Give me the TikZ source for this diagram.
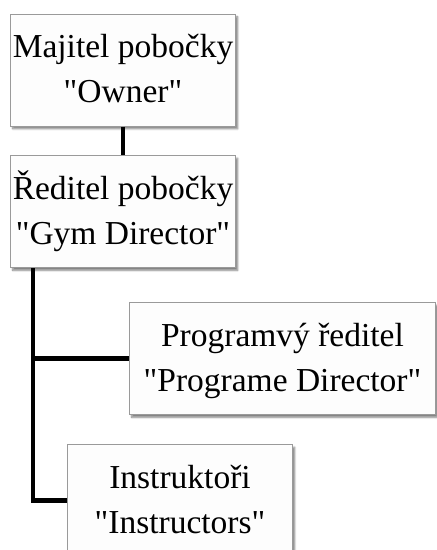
\documentclass[tikz,border=0pt]{standalone}
\usepackage{fontspec}
\setmainfont{Liberation Serif}[Ligatures=TeXOff]
\usetikzlibrary{shadows.blur,calc}
\definecolor{boxborder}{HTML}{9A9A9A}
\definecolor{boxfill}{HTML}{FDFDFD}
\begin{document}
\begin{tikzpicture}[x=1pt,y=1pt,
  orgbox/.style={draw=boxborder, line width=1pt, fill=boxfill, anchor=north west,
    align=center, inner sep=0pt, text height=88.5pt, text depth=23.5pt,
    font=\fontsize{33.5}{45}\selectfont,
    blur shadow={shadow xshift=2.2pt, shadow yshift=-2.8pt, shadow blur steps=6, shadow opacity=50}},
  link/.style={line width=4.8pt, black, line join=miter}]
\useasboundingbox (0,0) rectangle (437,-550);
\node[orgbox, minimum width=225pt] (b1) at (10,-13.5) {Majitel pobočky\\"Owner"};
\node[orgbox, minimum width=225pt] (b2) at (10,-155) {Ředitel pobočky\\"Gym Director"};
\node[orgbox, minimum width=306pt] (b3) at (129,-302) {Programvý ředitel\\"Programe Director"};
\node[orgbox, minimum width=225pt] (b4) at (67,-444) {Instruktoři\\"Instructors"};
\coordinate (trunk) at ($(b2.south west)+(23,0)$);
\coordinate (corner) at (trunk |- b4.west);
\draw[link] (b1.south) -- (b2.north);
\draw[link] (trunk) -- (corner) -- (b4.west);
\draw[link] (trunk |- b3.west) -- (b3.west);
\end{tikzpicture}
\end{document}
